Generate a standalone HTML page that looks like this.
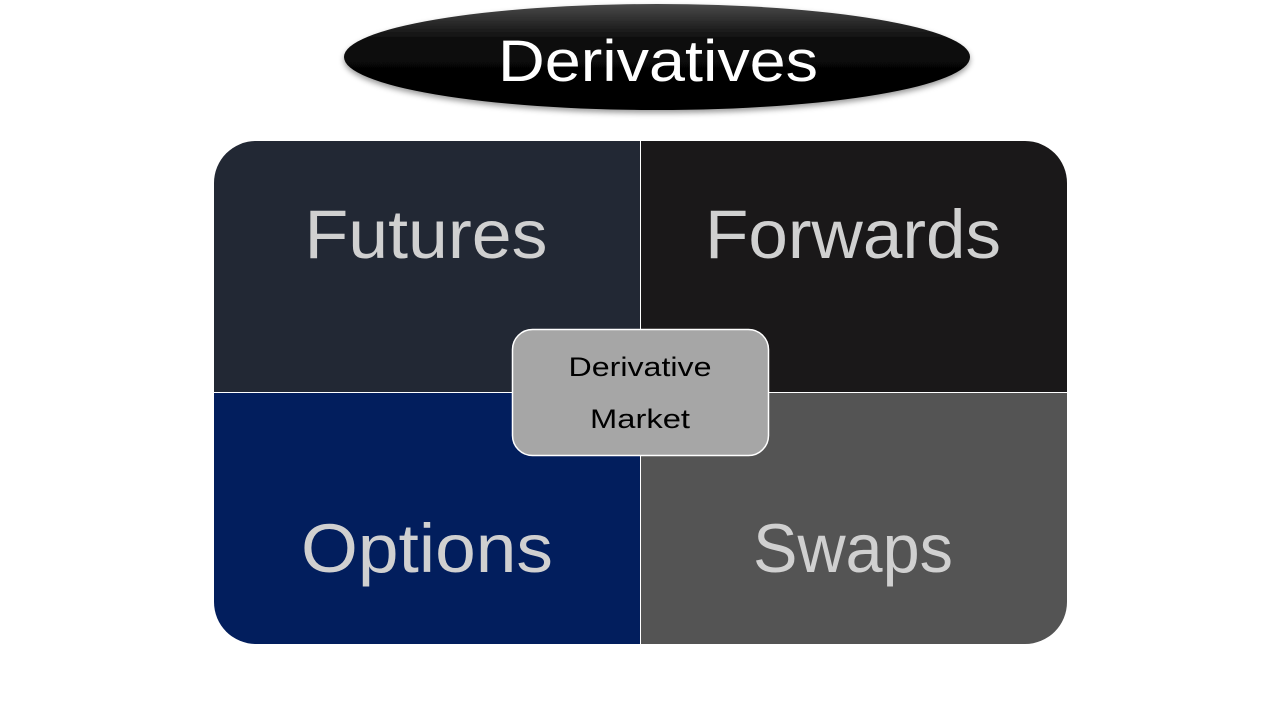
<!DOCTYPE html>
<html><head><meta charset="utf-8"><style>
html,body{margin:0;padding:0;background:#fff;width:1280px;height:720px;overflow:hidden}
</style></head><body>
<svg width="1280" height="720" viewBox="0 0 1280 720" xmlns="http://www.w3.org/2000/svg" font-family="'Liberation Sans', sans-serif">
<defs>
<linearGradient id="g" x1="0" y1="0" x2="0" y2="1">
<stop offset="0" stop-color="#4a4a4a"/><stop offset="0.35" stop-color="#0a0a0a"/><stop offset="1" stop-color="#000"/>
</linearGradient>
<filter id="sh" x="-10%" y="-30%" width="120%" height="170%"><feDropShadow dx="0" dy="3" stdDeviation="3" flood-opacity="0.4"/></filter>
<clipPath id="c"><rect x="214" y="141" width="853" height="503" rx="42"/></clipPath>
</defs>
<ellipse cx="657" cy="57" rx="313" ry="53" fill="url(#g)" filter="url(#sh)"/>
<text x="658" y="81" text-anchor="middle" font-size="58" fill="#fff" textLength="320" lengthAdjust="spacingAndGlyphs">Derivatives</text>
<g clip-path="url(#c)">
<rect x="214" y="141" width="426" height="251" fill="#222834"/>
<rect x="641" y="141" width="426" height="251" fill="#1a1819"/>
<rect x="214" y="393" width="426" height="251" fill="#021e5d"/>
<rect x="641" y="393" width="426" height="251" fill="#545454"/>
</g>
<g fill="#d0d0d0" font-size="69" text-anchor="middle">
<text x="426" y="258" textLength="243" lengthAdjust="spacingAndGlyphs">Futures</text>
<text x="853" y="258" textLength="296" lengthAdjust="spacingAndGlyphs">Forwards</text>
<text x="427" y="572" textLength="252" lengthAdjust="spacingAndGlyphs">Options</text>
<text x="853" y="572" textLength="200" lengthAdjust="spacingAndGlyphs">Swaps</text>
</g>
<rect x="512.5" y="329.5" width="256" height="126" rx="20" fill="#a6a6a6" stroke="#fff" stroke-width="1.5"/>
<g fill="#000" font-size="27" text-anchor="middle">
<text x="640" y="376" textLength="143" lengthAdjust="spacingAndGlyphs">Derivative</text>
<text x="640" y="428" textLength="100" lengthAdjust="spacingAndGlyphs">Market</text>
</g>
</svg>
</body></html>
